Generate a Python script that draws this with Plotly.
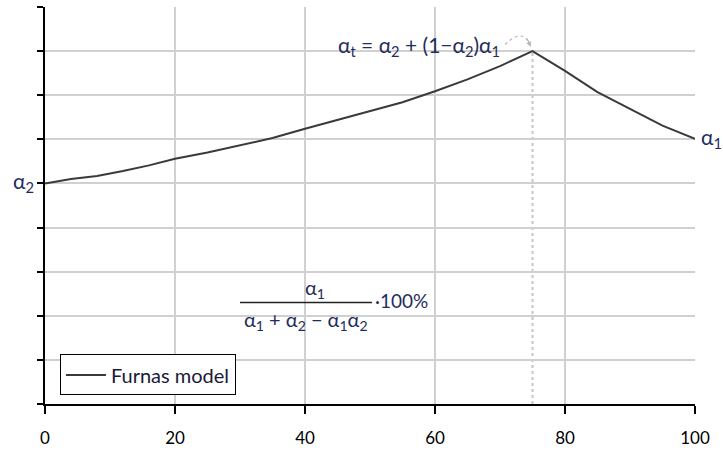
import plotly.graph_objects as go

# data
x_vals = [0, 4, 8, 12, 16, 20, 25, 30, 35, 40, 45, 50, 55, 60, 65, 70, 75, 80, 85, 90, 95, 100]
y_vals = [5.0, 5.1, 5.17, 5.28, 5.41, 5.56, 5.7, 5.86, 6.03, 6.24, 6.44, 6.64, 6.84, 7.09, 7.36, 7.66, 8.0, 7.55, 7.07, 6.69, 6.31, 6.01]
x_ticks = [0, 20, 40, 60, 80, 100]
y_ticks = list(range(0, 10))
series_name = "Furnas model"

peak_i = max(range(len(y_vals)), key=lambda i: y_vals[i])
peak_x, peak_y = x_vals[peak_i], y_vals[peak_i]

FONT = "Lato, 'Liberation Sans', sans-serif"
MATH = "#1f2d5c"

fig = go.Figure()
fig.add_trace(go.Scatter(x=x_vals, y=y_vals, mode="lines", name=series_name,
                         line=dict(color="#3a3a3a", width=2), showlegend=True))

# dashed drop line from peak
fig.add_shape(type="line", x0=peak_x, x1=peak_x, y0=0, y1=peak_y, xref="x", yref="y",
              line=dict(color="#c4c4c4", width=2, dash="dot"), layer="below")

# small curved dashed arrow near the peak
fig.add_shape(type="path", xref="x", yref="y",
              path=f"M {peak_x-4.2},{peak_y+0.15} Q {peak_x-1.5},{peak_y+0.55} {peak_x-0.3},{peak_y+0.12}",
              line=dict(color="#b5b5b5", width=1.2, dash="dot"))
fig.add_annotation(x=peak_x - 0.3, y=peak_y + 0.1, ax=peak_x - 0.9, ay=peak_y + 0.32,
                   xref="x", yref="y", axref="x", ayref="y", text="", showarrow=True,
                   arrowhead=2, arrowsize=1, arrowwidth=1, arrowcolor="#b5b5b5")

# labels alpha2, alpha1
fig.add_annotation(x=0, y=y_vals[0], xref="x", yref="y", text="α<sub>2</sub>", showarrow=False,
                   xanchor="right", xshift=-9, yshift=1, font=dict(size=21, color=MATH, family=FONT))
fig.add_annotation(x=100, y=y_vals[-1], xref="x", yref="y", text="α<sub>1</sub>", showarrow=False,
                   xanchor="left", xshift=4, yshift=1, font=dict(size=21, color=MATH, family=FONT))

# alpha_t formula
fig.add_annotation(x=70.3, y=8.12, xref="x", yref="y",
                   text="α<sub>t</sub> = α<sub>2</sub> + (1−α<sub>2</sub>)α<sub>1</sub>",
                   showarrow=False, xanchor="right", yanchor="middle",
                   font=dict(size=21, color=MATH, family=FONT))

# fraction formula
fig.add_annotation(x=41.5, y=2.62, xref="x", yref="y", text="α<sub>1</sub>", showarrow=False,
                   yanchor="middle", font=dict(size=20, color=MATH, family=FONT))
fig.add_shape(type="line", x0=30, x1=50.3, y0=2.3, y1=2.3, xref="x", yref="y",
              line=dict(color="#222", width=1.5))
fig.add_annotation(x=40.2, y=1.9, xref="x", yref="y",
                   text="α<sub>1</sub> + α<sub>2</sub> − α<sub>1</sub>α<sub>2</sub>",
                   showarrow=False, yanchor="middle", font=dict(size=20, color=MATH, family=FONT))
fig.add_annotation(x=50.4, y=2.34, xref="x", yref="y", text="·100%", showarrow=False,
                   xanchor="left", yanchor="middle", font=dict(size=19, color=MATH, family=FONT))

fig.update_layout(
    width=723, height=455,
    margin=dict(l=45, r=28, t=7, b=48),
    paper_bgcolor="white", plot_bgcolor="white",
    font=dict(family=FONT, size=16, color="black"),
    showlegend=True,
    legend=dict(x=0.023, y=0.125, xanchor="left", yanchor="top",
                bordercolor="black", borderwidth=1, bgcolor="white",
                font=dict(size=20, color="#1a1a3a", family=FONT), itemwidth=40,
                tracegroupgap=0),
)
fig.update_xaxes(range=[0, 100], tickvals=x_ticks, showgrid=True, gridcolor="#d0d0d0", gridwidth=1.5,
                 showline=True, linecolor="black", linewidth=1.5, ticks="outside", ticklen=8,
                 tickcolor="black", tickwidth=1.5, zeroline=False, ticklabelstandoff=10,
                 tickfont=dict(size=17, color="black"))
fig.update_yaxes(range=[0, 9], tickvals=y_ticks, showticklabels=False, showgrid=True,
                 gridcolor="#d0d0d0", gridwidth=1.5, showline=True, linecolor="black", linewidth=1.5,
                 ticks="outside", ticklen=6, tickcolor="black", tickwidth=1.5, zeroline=False)

fig.write_html("out.html")
